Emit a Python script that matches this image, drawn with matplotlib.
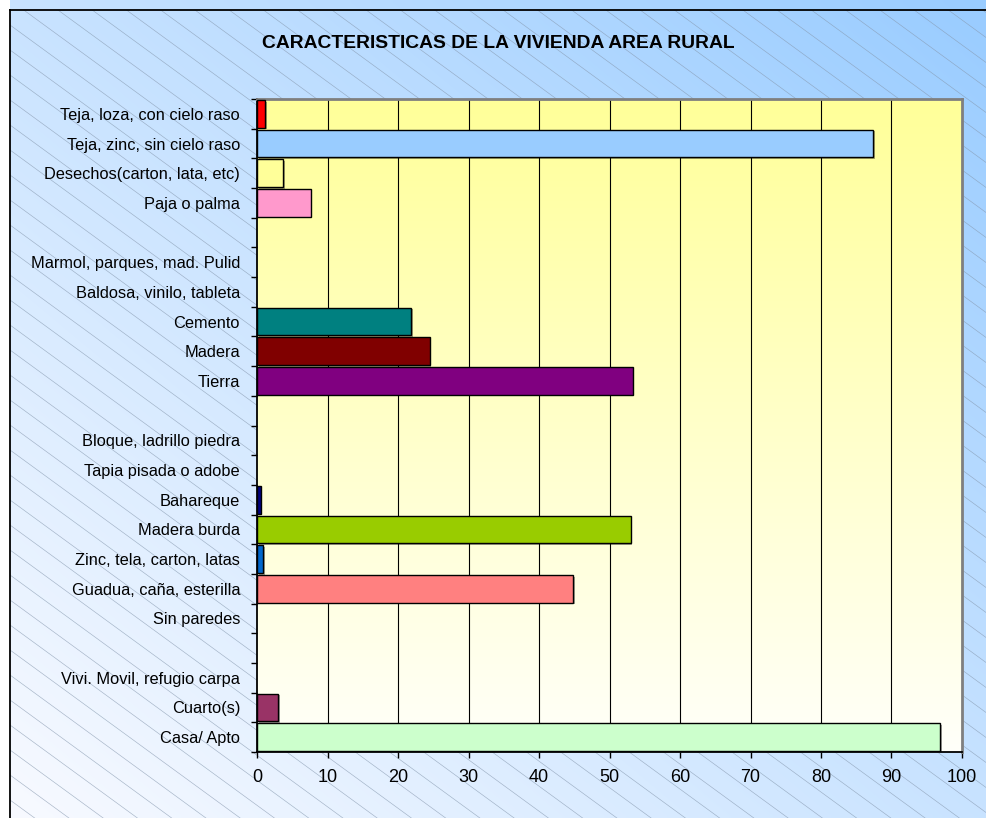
import numpy as np
import matplotlib
matplotlib.use("Agg")
import matplotlib.pyplot as plt
from matplotlib.patches import Rectangle
from matplotlib import patheffects

plt.rcParams["font.family"] = ["Liberation Sans", "DejaVu Sans"]

# categories top to bottom; "" marks the empty separator rows
categories = [
    "Teja, loza, con cielo raso", "Teja, zinc, sin cielo raso", "Desechos(carton, lata, etc)", "Paja o palma",
    "",
    "Marmol, parques, mad. Pulid", "Baldosa, vinilo, tableta", "Cemento", "Madera", "Tierra",
    "",
    "Bloque, ladrillo piedra", "Tapia pisada o adobe", "Bahareque", "Madera burda",
    "Zinc, tela, carton, latas", "Guadua, caña, esterilla", "Sin paredes",
    "",
    "Vivi. Movil, refugio carpa", "Cuarto(s)", "Casa/ Apto",
]
values = [1.2, 87.4, 3.7, 7.6,
          0,
          0, 0, 21.9, 24.5, 53.3,
          0,
          0, 0, 0.5, 53.0, 0.85, 44.8, 0,
          0,
          0, 3.0, 96.9]
bar_colors = ["#FF0000", "#99CCFF", "#FFFF99", "#FF99CC",
              "none",
              "#FFCC99", "#CCFFFF", "#008080", "#800000", "#800080",
              "none",
              "#CC99FF", "#FFCC00", "#000080", "#99CC00", "#0066CC", "#FF8080", "#C0C0C0",
              "none",
              "#33CCCC", "#993366", "#CCFFCC"]
x_ticks = [0, 10, 20, 30, 40, 50, 60, 70, 80, 90, 100]
title = "CARACTERISTICAS DE LA VIVIENDA AREA RURAL"

W, H = 987, 818
fig = plt.figure(figsize=(W / 100, H / 100), dpi=100)
fig.patch.set_facecolor("white")

# background: diagonal blue gradient with thin hatch lines
bg = fig.add_axes([0, 0, 1, 1], zorder=-5)
bg.set_xlim(0, W)
bg.set_ylim(H, 0)
bg.axis("off")
gx = np.linspace(0, 1, 200)
gy = np.linspace(1, 0, 200)
GX, GY = np.meshgrid(gx, gy)
t = (GX + GY) / 2
light = np.array([248, 250, 255]) / 255
dark = np.array([153, 204, 255]) / 255
img = light[None, None, :] * (1 - t[..., None]) + dark[None, None, :] * t[..., None]
bg.imshow(img, extent=[10, W, H, 0], aspect="auto", interpolation="bilinear")
clip = Rectangle((10, 10), W - 10, H - 10, transform=bg.transData, visible=False)
bg.add_patch(clip)
slope = 0.73
for y0 in np.arange(-800, H, 25):
    ln, = bg.plot([10, W], [y0, y0 + slope * (W - 10)], color="#8597ad", lw=0.45, alpha=0.7)
    ln.set_clip_path(clip)
bg.plot([10, 10], [10, H], color="black", lw=1.3)
bg.plot([10, W], [10, 10], color="black", lw=1.3)

fig.text(498 / W, 1 - 43 / H, title, ha="center", va="center", fontsize=13.9, fontweight="bold")

ax = fig.add_axes([257 / W, 66 / H, 705 / W, 653 / H])
n = len(categories)
pos = np.arange(n)

# plot area gradient: yellow at top to near white at bottom
grad = np.linspace(0, 1, 256)[:, None]
top = np.array([255, 255, 153]) / 255
bot = np.array([255, 255, 250]) / 255
pa = top[None, None, :] * (1 - grad[..., None]) + bot[None, None, :] * grad[..., None]
pa = np.repeat(pa, 2, axis=1)
ax.imshow(pa, extent=[0, 100, n - 0.5, -0.5], aspect="auto", zorder=0, interpolation="bilinear")

for xv in x_ticks[1:-1]:
    ax.axvline(xv, color="black", lw=0.8, zorder=1)

shadow = [patheffects.SimplePatchShadow(offset=(1.2, -1.2), shadow_rgbFace="black", alpha=0.35),
          patheffects.Normal()]
for p, v, c in zip(pos, values, bar_colors):
    if v > 0:
        ax.barh(p, v, height=0.93, color=c, edgecolor="black", linewidth=1.0, zorder=3,
                path_effects=shadow)

ax.set_xlim(0, 100)
ax.set_ylim(n - 0.5, -0.5)
ax.set_xticks(x_ticks)
ax.set_xticklabels([str(v) for v in x_ticks], fontsize=13)
ax.set_yticks(pos)
ax.set_yticklabels(categories, fontsize=11.8)
ax.set_yticks(np.arange(n + 1) - 0.5, minor=True)
ax.tick_params(axis="y", which="major", length=0, pad=12.2)
ax.tick_params(axis="y", which="minor", length=4.3, width=1.0, direction="out")
ax.tick_params(axis="x", which="major", length=4.3, width=1.0, direction="out", pad=8)

ax.spines["left"].set_color("black")
ax.spines["bottom"].set_color("black")
ax.spines["left"].set_linewidth(1.3)
ax.spines["bottom"].set_linewidth(1.3)
ax.spines["top"].set_color("#7f7f7f")
ax.spines["right"].set_color("#7f7f7f")
ax.spines["top"].set_linewidth(2)
ax.spines["right"].set_linewidth(2)

fig.savefig("out.png", dpi=100)
